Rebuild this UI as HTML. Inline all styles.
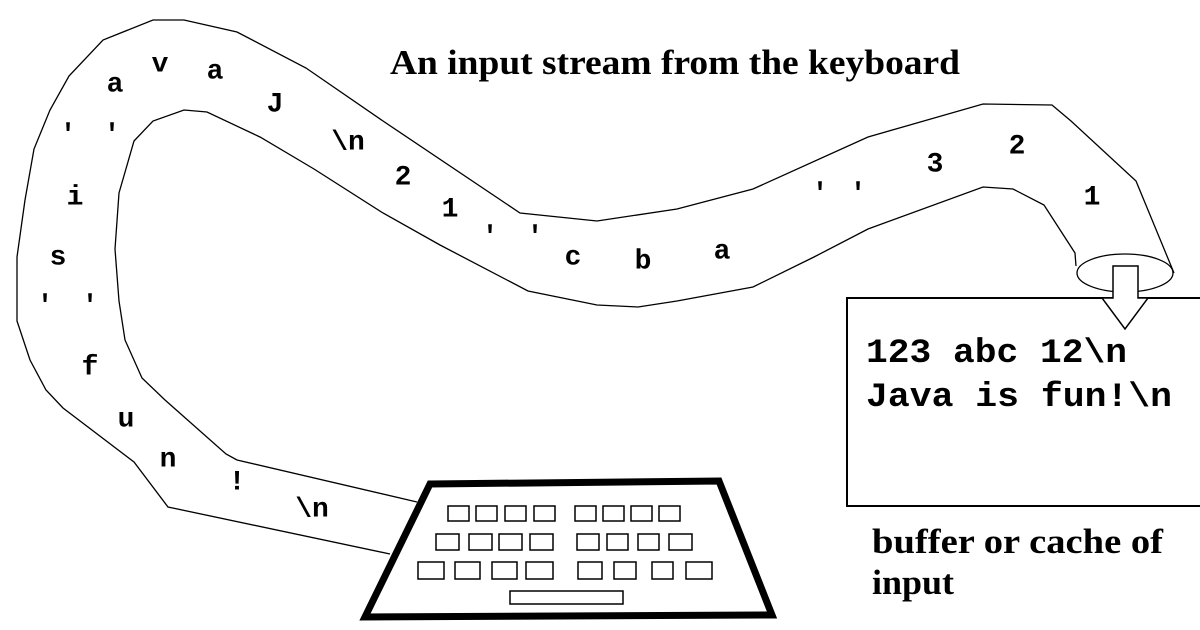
<!DOCTYPE html>
<html><head><meta charset="utf-8"><style>
html,body{margin:0;padding:0;background:#fff;}
svg{display:block;}
.m{font-family:"Liberation Mono",monospace;font-weight:bold;font-size:28px;fill:#000;}
.s{font-family:"Liberation Serif",serif;font-weight:bold;font-size:35px;fill:#000;}
.b{font-family:"Liberation Mono",monospace;font-weight:bold;font-size:34px;fill:#000;}
</style></head><body>
<svg width="1200" height="630" viewBox="0 0 1200 630" xmlns="http://www.w3.org/2000/svg">
<g fill="none" stroke="#000" stroke-width="1.3">
<polyline points="390,554 168,507 134,462 63,408 46,390 30,360 17,321 17,257 25,200 34,149 50,110 69,76 103,40 153,20 184,20 237,32 306,68 383,121 520,213 597,221 677,209 753,189 868,137 983,104 1052,105 1071,121 1136,181 1174,273"/>
<polyline points="417,502 237,460 226,454 165,400 142,378 125,340 119,301 115,249 119,193 134,141 153,121 184,110 207,112 260,137 314,169 383,213 440,245 528,291 597,305 638,307 677,301 753,287 814,257 868,229 983,187 1013,189 1044,205 1075,253 1076,266"/>
<ellipse cx="1125" cy="273" rx="48" ry="19" fill="#fff"/>
<rect x="847" y="298" width="360" height="208" fill="#fff" stroke-width="2"/>
<polygon points="1113,266 1138,266 1138,298 1148,298 1125,329 1102,298 1113,298" fill="#fff" stroke-width="1.5"/>
</g>
<text class="s" x="390" y="74" textLength="570" lengthAdjust="spacingAndGlyphs">An input stream from the keyboard</text>
<text class="b" x="866" y="362" textLength="261" lengthAdjust="spacingAndGlyphs">123 abc 12\n</text>
<text class="b" x="866" y="406" textLength="306" lengthAdjust="spacingAndGlyphs">Java is fun!\n</text>
<text class="s" x="872" y="553" textLength="291" lengthAdjust="spacingAndGlyphs">buffer or cache of</text>
<text class="s" x="872" y="594" textLength="82" lengthAdjust="spacingAndGlyphs">input</text>
<g class="m" text-anchor="middle" dominant-baseline="central">
<text x="115" y="85">a</text><text x="160" y="65">v</text><text x="215" y="72">a</text>
<text x="275" y="105">J</text><text x="348" y="143">\n</text><text x="403" y="178">2</text>
<text x="450" y="210">1</text><text x="490" y="238">'</text><text x="535" y="238">'</text>
<text x="573" y="258">c</text><text x="643" y="262">b</text><text x="722" y="252">a</text>
<text x="820" y="195">'</text><text x="858" y="195">'</text><text x="935" y="165">3</text>
<text x="1017" y="147">2</text><text x="1092" y="198">1</text>
<text x="68" y="136">'</text><text x="112" y="136">'</text><text x="75" y="198">i</text>
<text x="58" y="258">s</text><text x="45" y="307">'</text><text x="90" y="307">'</text>
<text x="90" y="368">f</text><text x="126" y="420">u</text><text x="168" y="460">n</text>
<text x="237" y="483">!</text><text x="312" y="510">\n</text>
</g>
<polygon points="430,484 719,481 772,615 365,617" fill="#fff" stroke="#000" stroke-width="7" stroke-linejoin="miter"/>
<g fill="none" stroke="#000" stroke-width="1.5">
<rect x="448" y="506" width="21" height="15"/><rect x="476" y="506" width="21" height="15"/><rect x="505" y="506" width="21" height="15"/><rect x="534" y="506" width="21" height="15"/>
<rect x="575" y="506" width="21" height="15"/><rect x="603" y="506" width="21" height="15"/><rect x="631" y="506" width="21" height="15"/><rect x="659" y="506" width="21" height="15"/>
<rect x="436" y="534" width="23" height="16"/><rect x="469" y="534" width="23" height="16"/><rect x="499" y="534" width="23" height="16"/><rect x="530" y="534" width="23" height="16"/>
<rect x="577" y="534" width="22" height="16"/><rect x="607" y="534" width="21" height="16"/><rect x="638" y="534" width="21" height="16"/><rect x="669" y="534" width="23" height="16"/>
<rect x="418" y="562" width="26" height="17"/><rect x="455" y="562" width="25" height="17"/><rect x="492" y="562" width="25" height="17"/><rect x="526" y="562" width="27" height="17"/>
<rect x="578" y="562" width="24" height="17"/><rect x="614" y="562" width="22" height="17"/><rect x="652" y="562" width="21" height="17"/><rect x="686" y="562" width="26" height="17"/>
<rect x="510" y="591" width="113" height="13"/>
</g>
</svg>
</body></html>
